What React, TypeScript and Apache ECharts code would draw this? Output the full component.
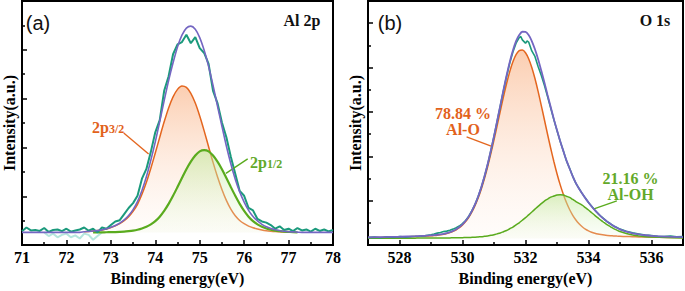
import React, { useEffect, useRef } from 'react';
import * as echarts from 'echarts';

// ---------------- Panel (a): Al 2p ----------------
const BASE_A = 0.52;
const energyA = [
  71.0, 71.1, 71.2, 71.3, 71.4, 71.5, 71.6, 71.7, 71.8, 71.9,
  72.0, 72.1, 72.2, 72.3, 72.4, 72.5, 72.6, 72.7, 72.8, 72.9,
  73.0, 73.1, 73.2, 73.3, 73.4, 73.5, 73.6, 73.7, 73.8, 73.9,
  74.0, 74.1, 74.2, 74.3, 74.4, 74.5, 74.6, 74.7, 74.8, 74.9,
  75.0, 75.1, 75.2, 75.3, 75.4, 75.5, 75.6, 75.7, 75.8, 75.9,
  76.0, 76.1, 76.2, 76.3, 76.4, 76.5, 76.6, 76.7, 76.8, 76.9,
  77.0, 77.1, 77.2, 77.3, 77.4, 77.5, 77.6, 77.7, 77.8, 77.9, 78.0,
];
const rawA = [
  0.05, 0.2, 0.08, 0.1, 0.06, 0.18, 0.02, 0.1, 0.12, 0.05,
  0.15, 0.03, 0.08, 0.12, 0.2, 0.07, 0.15, 0.0, 0.2, 0.15,
  0.3, 0.45, 0.5, 0.75, 1.0, 1.2, 1.5, 2.2, 2.6, 3.3,
  4.1, 4.6, 5.8, 6.4, 7.3, 7.7, 7.8, 8.1, 7.75, 8.0,
  7.55, 7.35, 6.9, 5.8, 5.3, 4.5, 3.9, 3.1, 2.4, 1.7,
  1.5, 1.0, 0.9, 0.55, 0.45, 0.4, 0.3, 0.15, 0.25, 0.1,
  0.15, 0.05, 0.18, 0.08, 0.12, 0.03, 0.15, 0.06, 0.12, 0.04, 0.1,
];
const p32A = [
  null, null, null, null, null, null, null, null, null, null,
  null, null, null, null, 0.03, 0.04, 0.055, 0.075, 0.1, 0.14,
  0.2, 0.27, 0.36, 0.48, 0.64, 0.86, 1.15, 1.56, 2.05, 2.63,
  3.25, 3.9, 4.53, 5.1, 5.55, 5.86, 6.0, 5.94, 5.7, 5.3,
  4.77, 4.16, 3.51, 2.87, 2.28, 1.76, 1.31, 0.95, 0.68, 0.49,
  0.36, 0.26, 0.19, 0.14, 0.1, 0.07, 0.05, 0.035, 0.025, 0.015,
  0.01, null, null, null, null, null, null, null, null, null, null,
];
const p12A = [
  null, null, null, null, null, null, null, null, null, null,
  null, null, null, null, null, null, 0.0, 0.002, 0.004, 0.006,
  0.01, 0.014, 0.02, 0.03, 0.05, 0.075, 0.11, 0.16, 0.23, 0.33,
  0.46, 0.645, 0.884, 1.17, 1.5, 1.86, 2.23, 2.59, 2.9, 3.15,
  3.32, 3.37, 3.32, 3.15, 2.9, 2.59, 2.23, 1.86, 1.5, 1.17,
  0.884, 0.645, 0.46, 0.33, 0.23, 0.16, 0.11, 0.075, 0.05, 0.03,
  0.02, 0.01, 0.005, null, null, null, null, null, null, null, null,
];
const envA = [
  0, 0, 0, 0, 0, 0, 0, 0, 0, 0,
  0, 0, 0, 0, 0.03, 0.04, 0.055, 0.077, 0.104, 0.146,
  0.21, 0.284, 0.38, 0.51, 0.69, 0.935, 1.26, 1.72, 2.28, 2.96,
  3.71, 4.545, 5.4, 6.22, 6.95, 7.6, 8.08, 8.37, 8.45, 8.32,
  7.98, 7.46, 6.8, 6.02, 5.18, 4.35, 3.54, 2.81, 2.18, 1.66,
  1.244, 0.905, 0.65, 0.47, 0.33, 0.23, 0.16, 0.11, 0.075, 0.045,
  0.03, 0.02, 0.01, 0, 0, 0, 0, 0, 0, 0, 0,
];
const faintEnergyA = [71.5, 71.6, 71.7, 71.8, 71.9, 72.0, 72.1, 72.2, 72.3, 72.4, 72.5, 72.6, 72.7, 72.8];
const faintA = [0, -0.15, -0.05, -0.2, -0.1, -0.05, -0.2, -0.12, -0.25, -0.05, -0.1, -0.3, -0.15, 0];
const arrowA32 = [[73.29, 4.59], [73.85, 3.73]];
const arrowA12 = [[76.08, 3.53], [75.59, 2.94]];

// ---------------- Panel (b): O 1s ----------------
const BASE_B = 0.3;
const fitEnergyB = [
  527, 527.5, 528,
  528.5, 528.6, 528.7, 528.8, 528.9,
  529.0, 529.1, 529.2, 529.3, 529.4, 529.5, 529.6, 529.7, 529.8, 529.9,
  530.0, 530.1, 530.2, 530.3, 530.4, 530.5, 530.6, 530.7, 530.8, 530.9,
  531.0, 531.1, 531.2, 531.3, 531.4, 531.5, 531.6, 531.7, 531.8, 531.9,
  532.0, 532.1, 532.2, 532.3, 532.4, 532.5, 532.6, 532.7, 532.8, 532.9,
  533.0, 533.1, 533.2, 533.3, 533.4, 533.5, 533.6, 533.7, 533.8, 533.9,
  534.0, 534.1, 534.2, 534.3, 534.4, 534.5, 534.6, 534.7, 534.8, 534.9,
  535.0, 535.2, 535.4, 535.6, 535.8, 536.0, 536.5, 537.0,
];
const alOB = [
  0.042, 0.052, 0.065,
  0.085, 0.091, 0.096, 0.103, 0.111,
  0.12, 0.132, 0.146, 0.165, 0.188, 0.22, 0.261, 0.316, 0.387, 0.481,
  0.602, 0.757, 0.951, 1.192, 1.485, 1.834, 2.244, 2.714, 3.24, 3.82,
  4.439, 5.086, 5.741, 6.382, 6.983, 7.517, 7.958, 8.28, 8.462, 8.493,
  8.37, 8.101, 7.706, 7.205, 6.628, 6.0, 5.348, 4.696, 4.063, 3.466,
  2.917, 2.424, 1.991, 1.617, 1.303, 1.041, 0.83, 0.66, 0.526, 0.422,
  0.342, 0.281, 0.235, 0.2, 0.174, 0.153, 0.137, 0.125, 0.115, 0.106,
  0.099, 0.087, 0.078, 0.07, 0.064, 0.058, 0.046, 0.038,
];
const alOHB = [
  0.008, 0.01, 0.012,
  0.014, 0.015, 0.016, 0.017, 0.018,
  0.019, 0.02, 0.02, 0.021, 0.023, 0.024, 0.025, 0.028, 0.03, 0.033,
  0.035, 0.039, 0.043, 0.05, 0.057, 0.068, 0.079, 0.096, 0.113, 0.14,
  0.167, 0.207, 0.247, 0.304, 0.36, 0.437, 0.513, 0.61, 0.706, 0.821,
  0.936, 1.063, 1.19, 1.319, 1.448, 1.566, 1.683, 1.773, 1.863, 1.911,
  1.959, 1.97, 1.954, 1.9, 1.848, 1.755, 1.661, 1.58, 1.5, 1.39,
  1.28, 1.16, 1.04, 0.925, 0.81, 0.71, 0.61, 0.525, 0.44, 0.375,
  0.31, 0.22, 0.155, 0.11, 0.08, 0.06, 0.037, 0.025,
];
const envB = [
  0.05, 0.062, 0.077,
  0.1, 0.106, 0.112, 0.12, 0.129,
  0.139, 0.152, 0.166, 0.186, 0.211, 0.244, 0.286, 0.344, 0.417, 0.514,
  0.637, 0.796, 0.994, 1.242, 1.542, 1.902, 2.323, 2.81, 3.353, 3.96,
  4.606, 5.293, 5.988, 6.686, 7.343, 7.954, 8.471, 8.89, 9.168, 9.314,
  9.306, 9.164, 8.896, 8.524, 8.076, 7.566, 7.031, 6.469, 5.926, 5.377,
  4.876, 4.394, 3.945, 3.517, 3.151, 2.796, 2.491, 2.24, 2.026, 1.812,
  1.622, 1.441, 1.275, 1.125, 0.984, 0.863, 0.747, 0.65, 0.555, 0.481,
  0.409, 0.307, 0.233, 0.18, 0.144, 0.118, 0.083, 0.063,
];
const rawEnergyB = [
  527.0, 527.2, 527.4, 527.6, 527.8, 528.0, 528.2, 528.4, 528.6, 528.8, 529.0,
  529.1, 529.2, 529.3, 529.4, 529.5, 529.6, 529.7, 529.8, 529.9,
  530.0, 530.1, 530.2, 530.3, 530.4, 530.5, 530.6, 530.7, 530.8, 530.9,
  531.0, 531.1, 531.2, 531.3, 531.4, 531.5, 531.6, 531.7, 531.8, 531.85, 531.9,
  532.0, 532.05, 532.1, 532.2, 532.3, 532.4, 532.5, 532.6, 532.7, 532.8, 532.9,
  533.0, 533.1, 533.2, 533.3, 533.4, 533.5, 533.6, 533.7, 533.8, 533.9,
  534.0, 534.1, 534.2, 534.3, 534.4, 534.5, 534.6, 534.7, 534.8, 534.9,
  535.0, 535.2, 535.4, 535.6, 535.8, 536.0, 536.2, 536.4, 536.6, 536.8, 537.0,
];
const rawB = [
  0.04, 0.06, 0.03, 0.07, 0.05, 0.08, 0.06, 0.09, 0.1, 0.12, 0.17,
  0.2, 0.24, 0.27, 0.31, 0.33, 0.37, 0.42, 0.48, 0.56,
  0.67, 0.81, 1.0, 1.25, 1.54, 1.9, 2.32, 2.8, 3.34, 3.95,
  4.6, 5.28, 5.97, 6.66, 7.3, 7.9, 8.4, 8.8, 9.05, 9.1, 8.95,
  8.8, 8.9, 8.85, 8.45, 8.2, 7.75, 7.35, 6.9, 6.4, 5.88, 5.36,
  4.86, 4.38, 3.95, 3.5, 3.16, 2.8, 2.48, 2.25, 2.02, 1.82,
  1.62, 1.45, 1.28, 1.12, 0.99, 0.87, 0.75, 0.66, 0.56, 0.49,
  0.42, 0.32, 0.25, 0.2, 0.15, 0.13, 0.1, 0.09, 0.11, 0.07, 0.08,
];
const majorTicksB = [528, 530, 532, 534, 536];
const minorTicksB = [527, 529, 531, 533, 535, 537];
const arrowBO = [[530.13, 4.88], [530.93, 4.45]];
const arrowBOH = [[534.9, 1.99], [534.15, 1.62]];

// ---------------- styles ----------------
const SERIF = 'Liberation Serif, Times New Roman, serif';
const SANS = 'Liberation Sans, Arial, sans-serif';
const ORANGE = '#e4661f';
const GREEN = '#5aab1e';
const TEAL = '#1b9a7c';
const PURPLE = '#7466c2';
const ORANGE_T = '#e2621b';
const GREEN_T = '#63a92a';

function pairs(xs: number[], ys: (number | null)[], base: number) {
  const out: number[][] = [];
  xs.forEach((x, i) => {
    const v = ys[i];
    if (v !== null && v !== undefined) out.push([x, base + v]);
  });
  return out;
}

const orangeFill = () =>
  new echarts.graphic.LinearGradient(0, 0, 0, 1, [
    { offset: 0, color: 'rgba(248,165,112,0.78)' },
    { offset: 1, color: 'rgba(255,240,230,0.25)' },
  ]);
const greenFill = () =>
  new echarts.graphic.LinearGradient(0, 0, 0, 1, [
    { offset: 0, color: 'rgba(188,232,148,0.78)' },
    { offset: 1, color: 'rgba(238,250,228,0.3)' },
  ]);

function arrowMark(a: number[][], color: string) {
  return {
    silent: true,
    animation: false,
    symbol: ['none', 'arrow'],
    symbolSize: [0, 9],
    label: { show: false },
    emphasis: { disabled: true },
    lineStyle: { color, width: 1.4, type: 'solid' },
    data: [[{ coord: a[0] }, { coord: a[1] }]],
  };
}

const labelStyle = { fontFamily: SERIF, fontWeight: 'bold', fontSize: 16, color: '#000', margin: 4 };
const nameStyle = { fontFamily: SERIF, fontWeight: 'bold', fontSize: 16, color: '#000' };
const tickStyle = { color: '#000', width: 1.5 };

function plainText(text: string, x: number, y: number, color: string) {
  return {
    type: 'text', x, y,
    style: { text, fontSize: 16, fontWeight: 'bold', fontFamily: SERIF, fill: color, align: 'center', verticalAlign: 'middle' },
  };
}

function subText(main: string, sub: string, x: number, y: number, color: string) {
  return {
    type: 'text', x, y,
    style: {
      text: `{a|${main}}{b|${sub}}`, align: 'left', verticalAlign: 'top',
      rich: {
        a: { fontSize: 16, fontWeight: 'bold', fontFamily: SERIF, fill: color, lineHeight: 16, verticalAlign: 'top' },
        b: { fontSize: 12, fontWeight: 'bold', fontFamily: SERIF, fill: color, lineHeight: 12, padding: [10, 0, 0, 0], verticalAlign: 'bottom' },
      },
    },
  };
}

export default function App() {
  const ref = useRef<HTMLDivElement>(null);
  useEffect(() => {
    if (!ref.current) return;
    const chart = echarts.init(ref.current, undefined, { renderer: 'svg' });
    const option: any = {
      animation: false,
      backgroundColor: '#fff',
      textStyle: { fontFamily: SERIF, fontWeight: 'bold', color: '#000' },
      grid: [
        { left: 19, top: 1, width: 314, height: 251, show: true, borderColor: '#000', borderWidth: 2 },
        { left: 368, top: 1, width: 315, height: 253, show: true, borderColor: '#000', borderWidth: 2 },
      ],
      xAxis: [
        {
          gridIndex: 0, type: 'value', min: 71, max: 78, interval: 1, position: 'bottom',
          axisLine: { show: true, lineStyle: { color: '#000', width: 2 } },
          axisTick: { show: true, inside: true, length: 5, lineStyle: tickStyle },
          minorTick: { show: true, splitNumber: 2, length: 3, lineStyle: tickStyle },
          splitLine: { show: false }, minorSplitLine: { show: false },
          axisLabel: { ...labelStyle },
          name: 'Binding energy(eV)', nameLocation: 'middle', nameGap: 14, nameTextStyle: nameStyle,
        },
        {
          gridIndex: 1, type: 'value', min: 527, max: 537, position: 'bottom',
          axisLine: { show: true, lineStyle: { color: '#000', width: 2 } },
          axisTick: { show: true, inside: true, length: 5, lineStyle: tickStyle, customValues: majorTicksB },
          splitLine: { show: false },
          axisLabel: { ...labelStyle, customValues: majorTicksB },
          name: 'Binding energy(eV)', nameLocation: 'middle', nameGap: 14, nameTextStyle: nameStyle,
        },
        {
          gridIndex: 1, type: 'value', min: 527, max: 537, position: 'bottom', offset: 0,
          axisLine: { show: false },
          axisTick: { show: true, inside: true, length: 3, lineStyle: tickStyle, customValues: minorTicksB },
          splitLine: { show: false },
          axisLabel: { show: false },
        },
      ],
      yAxis: [
        {
          gridIndex: 0, type: 'value', min: 0, max: 10, interval: 2,
          axisLine: { show: true, lineStyle: { color: '#000', width: 2 } },
          axisTick: { show: true, inside: true, length: 5, lineStyle: tickStyle },
          minorTick: { show: true, splitNumber: 2, length: 3, lineStyle: tickStyle },
          splitLine: { show: false }, minorSplitLine: { show: false },
          axisLabel: { show: false },
          name: 'Intensity(a.u.)', nameLocation: 'middle', nameGap: 5, nameTextStyle: nameStyle,
        },
        {
          gridIndex: 1, type: 'value', min: 0, max: 11, interval: 2,
          axisLine: { show: true, lineStyle: { color: '#000', width: 2 } },
          axisTick: { show: true, inside: true, length: 5, lineStyle: tickStyle },
          minorTick: { show: true, splitNumber: 2, length: 3, lineStyle: tickStyle },
          splitLine: { show: false }, minorSplitLine: { show: false },
          axisLabel: { show: false },
          name: 'Intensity(a.u.)', nameLocation: 'middle', nameGap: 5, nameTextStyle: nameStyle,
        },
      ],
      series: [
        // panel a
        {
          type: 'line', xAxisIndex: 0, yAxisIndex: 0, data: pairs(faintEnergyA, faintA, BASE_A),
          symbol: 'none', silent: true, z: 1, lineStyle: { color: 'rgba(90,200,180,0.45)', width: 2 },
        },
        {
          type: 'line', xAxisIndex: 0, yAxisIndex: 0, data: pairs(energyA, p32A, BASE_A),
          symbol: 'none', smooth: 0.3, silent: true, z: 2,
          lineStyle: { color: ORANGE, width: 1.5 },
          areaStyle: { color: orangeFill(), origin: BASE_A },
          markLine: arrowMark(arrowA32, ORANGE),
        },
        {
          type: 'line', xAxisIndex: 0, yAxisIndex: 0, data: pairs(energyA, p12A, BASE_A),
          symbol: 'none', smooth: 0.3, silent: true, z: 3,
          lineStyle: { color: GREEN, width: 2.2 },
          areaStyle: { color: greenFill(), origin: BASE_A },
          markLine: arrowMark(arrowA12, GREEN),
        },
        {
          type: 'line', xAxisIndex: 0, yAxisIndex: 0, data: pairs(energyA, rawA, BASE_A),
          symbol: 'none', silent: true, z: 4, lineStyle: { color: TEAL, width: 2 },
        },
        {
          type: 'line', xAxisIndex: 0, yAxisIndex: 0, data: pairs(energyA, envA, BASE_A),
          symbol: 'none', smooth: 0.3, silent: true, z: 5, lineStyle: { color: PURPLE, width: 1.6 },
        },
        // panel b
        {
          type: 'line', xAxisIndex: 1, yAxisIndex: 1, data: pairs(fitEnergyB, alOB, BASE_B),
          symbol: 'none', smooth: 0.3, silent: true, z: 2,
          lineStyle: { color: ORANGE, width: 1.5 },
          areaStyle: { color: orangeFill(), origin: BASE_B },
          markLine: arrowMark(arrowBO, ORANGE),
        },
        {
          type: 'line', xAxisIndex: 1, yAxisIndex: 1, data: pairs(fitEnergyB, alOHB, BASE_B),
          symbol: 'none', smooth: 0.3, silent: true, z: 3,
          lineStyle: { color: GREEN, width: 1.5 },
          areaStyle: { color: greenFill(), origin: BASE_B },
          markLine: arrowMark(arrowBOH, GREEN),
        },
        {
          type: 'line', xAxisIndex: 1, yAxisIndex: 1, data: pairs(rawEnergyB, rawB, BASE_B),
          symbol: 'none', silent: true, z: 4, lineStyle: { color: TEAL, width: 1.6 },
        },
        {
          type: 'line', xAxisIndex: 1, yAxisIndex: 1, data: pairs(fitEnergyB, envB, BASE_B),
          symbol: 'none', smooth: 0.3, silent: true, z: 5, lineStyle: { color: PURPLE, width: 1.8 },
        },
      ],
      graphic: [
        { type: 'text', x: 38, y: 23, style: { text: '(a)', fontSize: 20, fontFamily: SANS, fill: '#111', align: 'center', verticalAlign: 'middle' } },
        { type: 'text', x: 302, y: 20, style: { text: 'Al 2p', fontSize: 16, fontWeight: 'bold', fontFamily: SERIF, fill: '#111', align: 'center', verticalAlign: 'middle' } },
        { type: 'text', x: 390, y: 23, style: { text: '(b)', fontSize: 20, fontFamily: SANS, fill: '#111', align: 'center', verticalAlign: 'middle' } },
        { type: 'text', x: 655, y: 20, style: { text: 'O 1s', fontSize: 16, fontWeight: 'bold', fontFamily: SERIF, fill: '#111', align: 'center', verticalAlign: 'middle' } },
        subText('2p', '3/2', 92, 119, ORANGE_T),
        subText('2p', '1/2', 250, 154, GREEN_T),
        plainText('78.84 %', 463, 113.5, ORANGE_T),
        plainText('Al-O', 463, 129.5, ORANGE_T),
        plainText('21.16 %', 630.5, 178.5, GREEN_T),
        plainText('Al-OH', 630.5, 194.5, GREEN_T),
      ],
    };
    chart.setOption(option);
    return () => chart.dispose();
  }, []);
  return <div ref={ref} style={{ position: 'fixed', left: 0, top: 0, width: 685, height: 291 }} />;
}
